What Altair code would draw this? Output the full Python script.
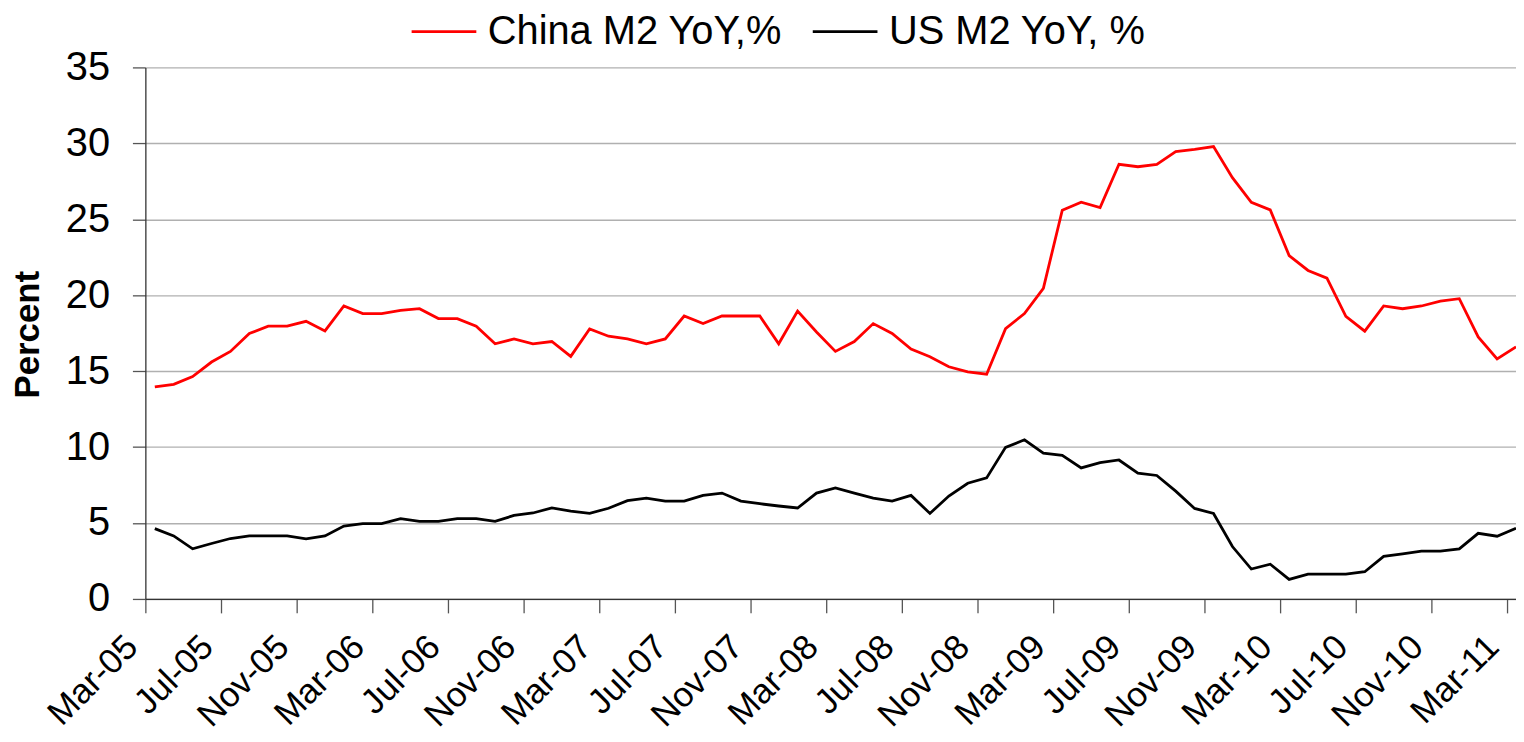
import altair as alt
import pandas as pd

# Monthly categories Mar-05 .. Mar-11
months = [d.strftime("%b-%y") for d in pd.date_range("2005-03-01", "2011-03-01", freq="MS")]

tick_labels = ["Mar-05", "Jul-05", "Nov-05", "Mar-06", "Jul-06", "Nov-06", "Mar-07",
               "Jul-07", "Nov-07", "Mar-08", "Jul-08", "Nov-08", "Mar-09", "Jul-09",
               "Nov-09", "Mar-10", "Jul-10", "Nov-10", "Mar-11"]

china_m2 = [13.96, 14.13, 14.64, 15.6, 16.3, 17.48, 17.96, 17.96, 18.28, 17.65,
            19.29, 18.79, 18.79, 19.0, 19.11, 18.46, 18.46, 17.96, 16.8, 17.12,
            16.8, 16.95, 15.97, 17.78, 17.3, 17.12, 16.8, 17.12, 18.63, 18.13,
            18.63, 18.63, 18.63, 16.8, 18.96, 17.58, 16.3, 16.95, 18.13, 17.48,
            16.45, 15.95, 15.29, 14.95, 14.8, 17.8, 18.79, 20.45, 25.6, 26.12,
            25.77, 28.62, 28.46, 28.62, 29.45, 29.6, 29.79, 27.74, 26.12, 25.62,
            22.61, 21.63, 21.12, 18.61, 17.63, 19.29, 19.11, 19.29, 19.61, 19.77,
            17.25, 15.81, 16.6]

us_m2 = [4.63, 4.15, 3.3, 3.65, 3.98, 4.15, 4.15, 4.15, 3.95, 4.15,
         4.8, 4.96, 4.96, 5.29, 5.11, 5.11, 5.29, 5.29, 5.11, 5.5,
         5.66, 5.99, 5.79, 5.63, 5.97, 6.47, 6.64, 6.44, 6.44, 6.82,
         6.97, 6.44, 6.27, 6.12, 5.99, 6.97, 7.31, 6.97, 6.64, 6.44,
         6.82, 5.63, 6.78, 7.62, 7.97, 9.98, 10.48, 9.6, 9.46, 8.63,
         8.98, 9.15, 8.28, 8.13, 7.1, 5.96, 5.63, 3.45, 1.97, 2.29,
         1.29, 1.64, 1.64, 1.64, 1.79, 2.8, 2.97, 3.15, 3.15, 3.3,
         4.32, 4.13, 4.65]

series_names = ["China M2 YoY,%", "US M2 YoY, %"]
series_colors = ["#ff0000", "#000000"]

rows = []
for i, m in enumerate(months):
    rows.append({"month": m, "pos": i + 0.5, "series": series_names[0], "value": china_m2[i]})
    rows.append({"month": m, "pos": i + 0.5, "series": series_names[1], "value": us_m2[i]})
df = pd.DataFrame(rows)

label_expr = "[" + ",".join("'%s'" % t for t in tick_labels) + "][round(datum.value/4)]"

FONT = "Liberation Sans"

chart = alt.Chart(df).mark_line(strokeWidth=2.8).encode(
    x=alt.X("pos:Q",
            scale=alt.Scale(domain=[0, 72.5], nice=False, zero=False),
            axis=alt.Axis(values=list(range(0, 73, 4)), labelExpr=label_expr,
                          title=None, grid=False, labelAngle=315,
                          labelAlign="right", labelBaseline="middle",
                          labelFontSize=35, labelPadding=28, labelOffset=-14,
                          tickSize=14, labelOverlap=False, labelBound=False)),
    y=alt.Y("value:Q",
            scale=alt.Scale(domain=[0, 35], nice=False),
            axis=alt.Axis(values=list(range(0, 36, 5)), title="Percent",
                          titleFontSize=35, titleFontWeight="bold",
                          titleAngle=270, titleX=-118, titleY=268,
                          titleAlign="center", titleBaseline="middle",
                          labelFontSize=40, labelPadding=23, tickSize=13,
                          grid=True)),
    color=alt.Color("series:N",
                    scale=alt.Scale(domain=series_names, range=series_colors),
                    sort=series_names,
                    legend=alt.Legend(title=None, orient="none", direction="horizontal",
                                      legendX=266, legendY=-70,
                                      symbolType="stroke", symbolSize=4225,
                                      symbolStrokeWidth=2.8, labelFontSize=40,
                                      labelFont=FONT, labelOffset=10,
                                      columnPadding=24, labelLimit=600,
                                      padding=0)),
    detail="series:N",
).properties(
    width=1377,
    height=534,
    autosize=alt.AutoSizeParams(type="none"),
    padding={"left": 138, "top": 58, "right": 0, "bottom": 134},
).configure_view(
    stroke=None
).configure_axis(
    labelFont=FONT, titleFont=FONT, labelColor="#000000", titleColor="#000000",
    domainColor="#333333", domainWidth=1.3, tickColor="#555555", tickWidth=1.3,
    gridColor="#b0b0b0", gridWidth=1.4
)

chart.save("out.html", embed_options={"renderer": "svg", "actions": False})
